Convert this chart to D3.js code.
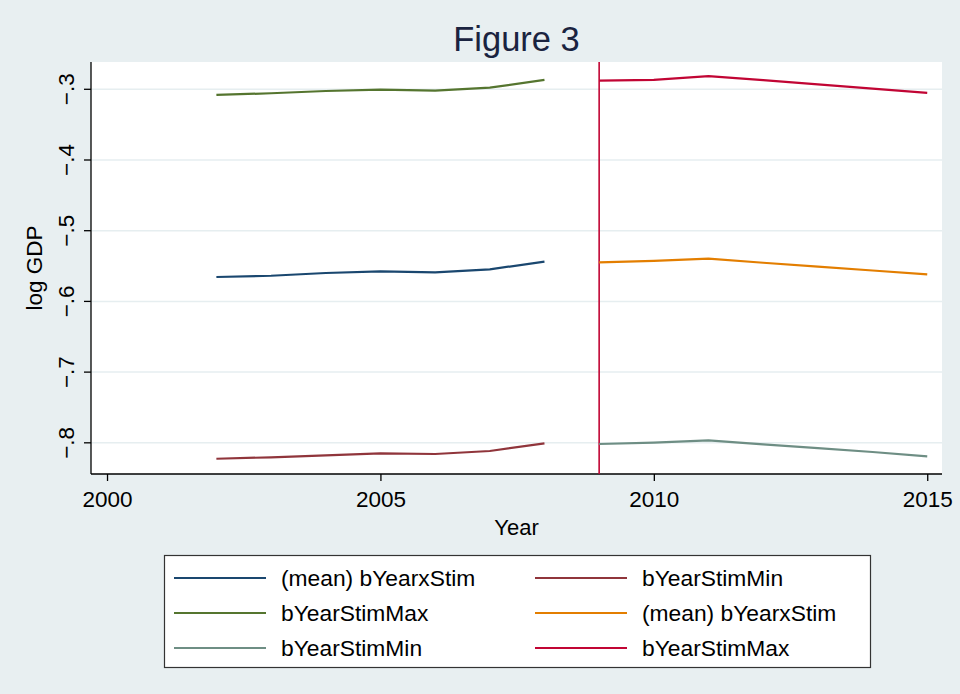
<!DOCTYPE html>
<html lang="en">
<head>
<meta charset="UTF-8">
<title>Figure 3</title>
<script src="https://cdn.jsdelivr.net/npm/d3@7.9.0/dist/d3.min.js"></script>
<style>
    body { margin: 0; background: #e8eff1; }
    svg { display: block; font-family: "Liberation Sans", Arial, Helvetica, sans-serif; }
</style>
</head>
<body>
<svg id="chart" width="960" height="694"></svg>
<script>
// years before and after the 2009 stimulus line
const yearsPre = [2002, 2003, 2004, 2005, 2006, 2007, 2008];
const yearsPost = [2009, 2010, 2011, 2012, 2013, 2014, 2015];

const meanPre = [-0.5655, -0.5637, -0.5598, -0.5574, -0.5588, -0.5546, -0.5438];
const minPre  = [-0.8225, -0.8205, -0.8177, -0.8149, -0.8158, -0.8116, -0.8007];
const maxPre  = [-0.3080, -0.3056, -0.3024, -0.3006, -0.3020, -0.2977, -0.2866];

const meanPost = [-0.5447, -0.5426, -0.5396, -0.5453, -0.5509, -0.5563, -0.5617];
const minPost  = [-0.8017, -0.7996, -0.7965, -0.8021, -0.8074, -0.8130, -0.8191];
const maxPost  = [-0.2878, -0.2866, -0.2813, -0.2870, -0.2930, -0.2990, -0.3052];

const xTicks = [2000, 2005, 2010, 2015];
const yTicks = [-0.3, -0.4, -0.5, -0.6, -0.7, -0.8];
const stimYear = 2009;

const series = [
    { label: '(mean) bYearxStim', years: yearsPre, values: meanPre, color: '#1a476f' },
    { label: 'bYearStimMin', years: yearsPre, values: minPre, color: '#90353b' },
    { label: 'bYearStimMax', years: yearsPre, values: maxPre, color: '#55752f' },
    { label: '(mean) bYearxStim', years: yearsPost, values: meanPost, color: '#e37e00' },
    { label: 'bYearStimMin', years: yearsPost, values: minPost, color: '#6e8e84' },
    { label: 'bYearStimMax', years: yearsPost, values: maxPost, color: '#c10534' }
];

const svg = d3.select('#chart');
const plot = { left: 91, right: 942, top: 62, bottom: 474 };

let x = d3.scaleLinear().domain([1999.707, 2015.27]).range([plot.left, plot.right]);
let y = d3.scaleLinear().domain([-0.8441, -0.2614]).range([plot.bottom, plot.top]);

// plot region
svg.append('rect')
    .attr('x', plot.left).attr('y', plot.top)
    .attr('width', plot.right - plot.left).attr('height', plot.bottom - plot.top)
    .attr('fill', '#fff');

// grid lines
svg.append('g').selectAll('line')
    .data(yTicks)
    .enter().append('line')
    .attr('x1', plot.left).attr('x2', plot.right)
    .attr('y1', d => y(d)).attr('y2', d => y(d))
    .attr('stroke', '#e6eef0').attr('stroke-width', 1.5);

// axes
let fmt = d => d3.format('.1f')(d).replace('0.', '.');

let yAxis = svg.append('g')
    .attr('transform', `translate(${plot.left},0)`)
    .call(d3.axisLeft(y).tickValues(yTicks).tickSize(7).tickSizeOuter(0).tickFormat(fmt));
yAxis.selectAll('.tick').attr('transform', null);
yAxis.selectAll('.tick line').attr('y1', d => y(d)).attr('y2', d => y(d));
yAxis.selectAll('text')
    .attr('transform', d => `translate(-25,${y(d)}) rotate(-90)`)
    .attr('x', 0).attr('y', 0).attr('dy', '0.35em')
    .attr('text-anchor', 'middle');

let xAxis = svg.append('g')
    .attr('transform', `translate(0,${plot.bottom})`)
    .call(d3.axisBottom(x).tickValues(xTicks).tickSize(7).tickSizeOuter(0).tickFormat(d3.format('d')));
xAxis.selectAll('text').attr('y', 17);

[yAxis, xAxis].forEach(a => {
    a.select('.domain').attr('stroke', '#000').attr('stroke-width', 1.3);
    a.selectAll('.tick line').attr('stroke', '#000').attr('stroke-width', 1.3);
    a.selectAll('text').attr('font-size', 22.5).attr('fill', '#000')
        .attr('font-family', '"Liberation Sans", Arial, sans-serif');
});
yAxis.select('.domain').attr('d', `M0,${plot.top}V${plot.bottom}`);
xAxis.select('.domain').attr('d', `M${plot.left},0H${plot.right}`);

// stimulus line
svg.append('line')
    .attr('x1', x(stimYear)).attr('x2', x(stimYear))
    .attr('y1', plot.top).attr('y2', plot.bottom)
    .attr('stroke', '#c10534').attr('stroke-width', 1.6);

// series lines
let line = d3.line().x(d => x(d[0])).y(d => y(d[1]));
svg.append('g').selectAll('path')
    .data(series)
    .enter().append('path')
    .attr('d', s => line(d3.zip(s.years, s.values)))
    .attr('fill', 'none')
    .attr('stroke', s => s.color)
    .attr('stroke-width', 2.2);

// titles
svg.append('text')
    .attr('x', (plot.left + plot.right) / 2).attr('y', 51)
    .attr('text-anchor', 'middle').attr('font-size', 34.5).attr('fill', '#1a2340')
    .text('Figure 3');

svg.append('text')
    .attr('x', (plot.left + plot.right) / 2).attr('y', 535)
    .attr('text-anchor', 'middle').attr('font-size', 22)
    .text('Year');

svg.append('text')
    .attr('transform', `translate(42,${(plot.top + plot.bottom) / 2}) rotate(-90)`)
    .attr('text-anchor', 'middle').attr('font-size', 22.5)
    .text('log GDP');

// legend
let legend = svg.append('g');
legend.append('rect')
    .attr('x', 164.5).attr('y', 555.5).attr('width', 706).attr('height', 112)
    .attr('fill', '#fff').attr('stroke', '#333').attr('stroke-width', 1.2);

let items = legend.selectAll('g.item')
    .data(series)
    .enter().append('g')
    .attr('class', 'item')
    .attr('transform', (d, i) => `translate(${i % 2 === 0 ? 174 : 535},${578 + Math.floor(i / 2) * 35})`);
items.append('line')
    .attr('x1', 0).attr('x2', 92)
    .attr('stroke', d => d.color).attr('stroke-width', 2);
items.append('text')
    .attr('x', 107).attr('dy', '0.35em')
    .attr('font-size', 22.8)
    .text(d => d.label);
</script>
</body>
</html>
